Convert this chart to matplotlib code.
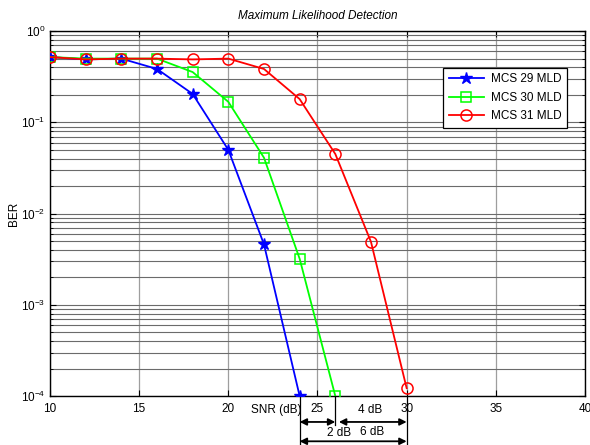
import matplotlib
matplotlib.use("Agg")
import matplotlib.pyplot as plt
import matplotlib.transforms as mtransforms
from matplotlib.ticker import LogLocator, LogFormatterMathtext, NullFormatter

plt.rcParams["font.family"] = ["Liberation Sans", "DejaVu Sans"]
plt.rcParams["mathtext.fontset"] = "custom"
plt.rcParams["mathtext.rm"] = "Liberation Sans"
plt.rcParams["mathtext.default"] = "regular"

# BER curves
snr_29 = [10, 12, 14, 16, 18, 20, 22, 24]
ber_29 = [0.52, 0.49, 0.50, 0.385, 0.205, 0.050, 0.0046, 1.0e-4]

snr_30 = [10, 12, 14, 16, 18, 20, 22, 24, 26]
ber_30 = [0.52, 0.50, 0.50, 0.50, 0.356, 0.168, 0.041, 0.0032, 1.0e-4]

snr_31 = [10, 12, 14, 16, 18, 20, 22, 24, 26, 28, 30]
ber_31 = [0.52, 0.49, 0.50, 0.50, 0.49, 0.50, 0.385, 0.18, 0.045, 0.0049, 1.22e-4]

x_ticks = [10, 15, 20, 25, 30, 35, 40]

fig = plt.figure(figsize=(5.9, 4.45), dpi=100)
ax = fig.add_axes([0.0847, 0.110, 0.9068, 0.820])

ax.plot(snr_29, ber_29, color="#0000ff", lw=1.3, marker="*", ms=9,
        mfc="#0000ff", mec="#0000ff", label="MCS 29 MLD", zorder=3)
ax.plot(snr_30, ber_30, color="#00ff00", lw=1.3, marker="s", ms=6.5,
        mfc="none", mec="#00ff00", mew=1.1, label="MCS 30 MLD", zorder=3)
ax.plot(snr_31, ber_31, color="#ff0000", lw=1.3, marker="o", ms=8,
        mfc="none", mec="#ff0000", mew=1.1, label="MCS 31 MLD", zorder=3)

ax.set_yscale("log")
ax.set_xlim(10, 40)
ax.set_ylim(1e-4, 1)
ax.set_xticks(x_ticks)
ax.yaxis.set_major_locator(LogLocator(base=10))
ax.yaxis.set_minor_locator(LogLocator(base=10, subs=range(2, 10)))
ax.yaxis.set_major_formatter(LogFormatterMathtext())
ax.yaxis.set_minor_formatter(NullFormatter())

ax.grid(True, axis="x", which="major", color="0.62", lw=0.9)
ax.grid(True, axis="y", which="both", color="0.42", lw=0.8)
ax.set_axisbelow(True)

ax.tick_params(which="both", direction="in", top=True, right=True,
               labelsize=8.5)
ax.tick_params(axis="x", pad=5)
ax.tick_params(which="major", length=4)
ax.tick_params(which="minor", length=2)
for sp in ax.spines.values():
    sp.set_linewidth(1.0)

ax.set_title("Maximum Likelihood Detection", fontsize=8.5,
             style="italic", pad=9)
ax.set_ylabel("BER", fontsize=8.5)
ax.yaxis.set_label_coords(-0.056, 0.5)

trans = mtransforms.blended_transform_factory(ax.transData, ax.transAxes)
ax.text(22.7, -0.038, "SNR (dB)", transform=trans, fontsize=8.5,
        ha="center", va="center")

# gap annotations below the axis
for xv, yb in [(24, -0.134), (26, -0.08), (30, -0.134)]:
    ax.plot([xv, xv], [0, yb], transform=trans, color="black", lw=0.9,
            clip_on=False)

arrows = [(24, 26, -0.071), (26.2, 30, -0.071), (24, 30, -0.124)]
for x0, x1, yv in arrows:
    ax.annotate("", xy=(x1, yv), xytext=(x0, yv), xycoords=trans,
                textcoords=trans,
                arrowprops=dict(arrowstyle="<|-|>", color="black", lw=1.3,
                                shrinkA=0, shrinkB=0, mutation_scale=10),
                annotation_clip=False)

ax.text(27.95, -0.038, "4 dB", transform=trans, fontsize=8.5,
        ha="center", va="center")
ax.text(26.2, -0.100, "2 dB", transform=trans, fontsize=8.5,
        ha="center", va="center")
ax.text(28.06, -0.098, "6 dB", transform=trans, fontsize=8.5,
        ha="center", va="center")

leg = ax.legend(loc="upper left", bbox_to_anchor=(0.735, 0.899),
                borderaxespad=0, fontsize=8.5, fancybox=False,
                framealpha=1, edgecolor="black", handlelength=3.0,
                borderpad=0.45, labelspacing=0.55, handletextpad=0.6)
leg.get_frame().set_linewidth(0.9)

fig.savefig("out.png", dpi=100)
